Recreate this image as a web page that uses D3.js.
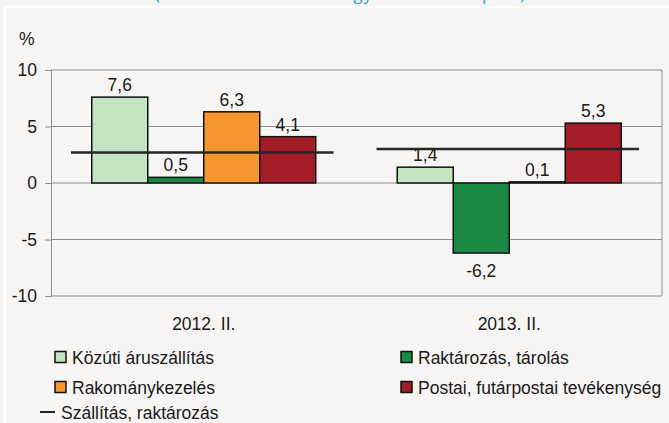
<!DOCTYPE html>
<html>
<head>
<meta charset="utf-8">
<script src="https://cdn.jsdelivr.net/npm/d3@7"></script>
<style>
  body { margin: 0; background: #f6f5f3; }
  svg { display: block; font-family: "Liberation Sans", Arial, sans-serif; }
</style>
</head>
<body>
<svg width="669" height="423"></svg>
<script>
"use strict";

const categories = ["2012. II.", "2013. II."];
const seriesNames = ["Közúti áruszállítás", "Raktározás, tárolás", "Rakománykezelés", "Postai, futárpostai tevékenység"];
const kozutiValues = [7.6, 1.4];
const raktarozasValues = [0.5, -6.2];
const rakomanyValues = [6.3, 0.1];
const postaiValues = [4.1, 5.3];
const lineName = "Szállítás, raktározás";
const szallitasValues = [2.7, 3.0];
const yTicks = [-10, -5, 0, 5, 10];

const colors = ["#c5e4c2", "#1a8a43", "#f7962e", "#a31c28"];
const seriesValues = [kozutiValues, raktarozasValues, rakomanyValues, postaiValues];
const fontSize = 17.5;

const svg = d3.select("svg");
const width = +svg.attr("width");
const height = +svg.attr("height");

// frame
svg.append("rect")
  .attr("width", width).attr("height", height)
  .attr("fill", "#f6f5f3");
svg.append("rect")
  .attr("x", 5).attr("y", 7)
  .attr("width", width + 10).attr("height", height + 10)
  .attr("fill", "none").attr("stroke", "#ffffff").attr("stroke-width", 2);

// title, cut off at the top edge like in the source
svg.append("text")
  .attr("x", 155).attr("y", 0)
  .attr("textLength", 370)
  .attr("font-family", "'Open Sans', sans-serif")
  .attr("font-size", 17)
  .attr("fill", "#1ea3dc")
  .text("(az előző év azonos negyedévéhez képest)");

const margin = { top: 70, right: 7, bottom: 127, left: 51 };
const x0 = margin.left, x1 = width - margin.right;

const xScale = d3.scaleBand().domain(categories).range([x0, x1]);
const xInner = d3.scaleBand().domain(seriesNames)
  .range([40.75, xScale.bandwidth() - 40.75]);
const yScale = d3.scaleLinear().domain([-10, 10]).range([height - margin.bottom, margin.top]);

// gridlines
svg.append("g")
  .selectAll("line")
  .data(yTicks)
  .join("line")
  .attr("x1", x0).attr("x2", x1)
  .attr("y1", d => yScale(d)).attr("y2", d => yScale(d))
  .attr("stroke", "#8e8e8e").attr("stroke-width", 1);

svg.append("line")
  .attr("x1", x1).attr("x2", x1)
  .attr("y1", yScale(10)).attr("y2", yScale(-10))
  .attr("stroke", "#8e8e8e");

// y axis
const yAxisG = svg.append("g")
  .attr("transform", `translate(${x0},0)`)
  .call(d3.axisLeft(yScale).tickValues(yTicks).tickSize(6).tickPadding(8).tickFormat(d => String(d)));
yAxisG.selectAll("path, line").attr("stroke", "#8e8e8e");
yAxisG.selectAll("text").attr("font-size", fontSize).attr("fill", "#1a1a1a")
  .attr("font-family", "'Liberation Sans', Arial, sans-serif");

svg.append("text")
  .attr("x", 19).attr("y", 45)
  .attr("font-size", fontSize).attr("fill", "#1a1a1a")
  .text("%");

// bars
const barData = [];
categories.forEach((c, i) => {
  seriesNames.forEach((s, j) => {
    barData.push({ cat: c, series: s, value: seriesValues[j][i], color: colors[j] });
  });
});

const fmt = v => String(v).replace(".", ",");

svg.append("g")
  .selectAll("rect")
  .data(barData)
  .join("rect")
  .attr("x", d => xScale(d.cat) + xInner(d.series))
  .attr("width", xInner.bandwidth())
  .attr("y", d => yScale(Math.max(0, d.value)))
  .attr("height", d => Math.abs(yScale(d.value) - yScale(0)))
  .attr("fill", d => d.color)
  .attr("stroke", "#111")
  .attr("stroke-width", 1.5);

svg.append("g")
  .selectAll("text")
  .data(barData)
  .join("text")
  .attr("x", d => xScale(d.cat) + xInner(d.series) + xInner.bandwidth() / 2)
  .attr("y", d => d.value >= 0 ? yScale(d.value) - 6 : yScale(d.value) + 24)
  .attr("text-anchor", "middle")
  .attr("font-size", fontSize)
  .attr("fill", "#1a1a1a")
  .text(d => fmt(d.value));

// line series drawn as dashes per category
svg.append("g")
  .selectAll("line")
  .data(categories.map((c, i) => ({ cat: c, value: szallitasValues[i] })))
  .join("line")
  .attr("x1", d => xScale(d.cat) + 20)
  .attr("x2", d => xScale(d.cat) + xScale.bandwidth() - 23)
  .attr("y1", d => yScale(d.value))
  .attr("y2", d => yScale(d.value))
  .attr("stroke", "#262626")
  .attr("stroke-width", 2.5);

// x labels
svg.append("g")
  .selectAll("text")
  .data(categories)
  .join("text")
  .attr("x", d => xScale(d) + xScale.bandwidth() / 2)
  .attr("y", 330)
  .attr("text-anchor", "middle")
  .attr("font-size", fontSize)
  .attr("fill", "#1a1a1a")
  .text(d => d);

// legend
const legendItems = [
  { name: seriesNames[0], color: colors[0], x: 55, y: 357 },
  { name: seriesNames[1], color: colors[1], x: 401, y: 357 },
  { name: seriesNames[2], color: colors[2], x: 55, y: 387 },
  { name: seriesNames[3], color: colors[3], x: 401, y: 387 }
];

const legend = svg.append("g");
const items = legend.selectAll("g")
  .data(legendItems)
  .join("g")
  .attr("transform", d => `translate(${d.x},${d.y})`);
items.append("rect")
  .attr("x", 0).attr("y", -5.5)
  .attr("width", 11).attr("height", 11)
  .attr("fill", d => d.color)
  .attr("stroke", "#111").attr("stroke-width", 1.5);
items.append("text")
  .attr("x", 17).attr("y", 6.5)
  .attr("font-size", fontSize).attr("fill", "#1a1a1a")
  .text(d => d.name);

const lineItem = legend.append("g").attr("transform", "translate(40,412)");
lineItem.append("line")
  .attr("x1", 0).attr("x2", 15)
  .attr("stroke", "#262626").attr("stroke-width", 2);
lineItem.append("text")
  .attr("x", 21).attr("y", 6.5)
  .attr("font-size", fontSize).attr("fill", "#1a1a1a")
  .text(lineName);
</script>
</body>
</html>
